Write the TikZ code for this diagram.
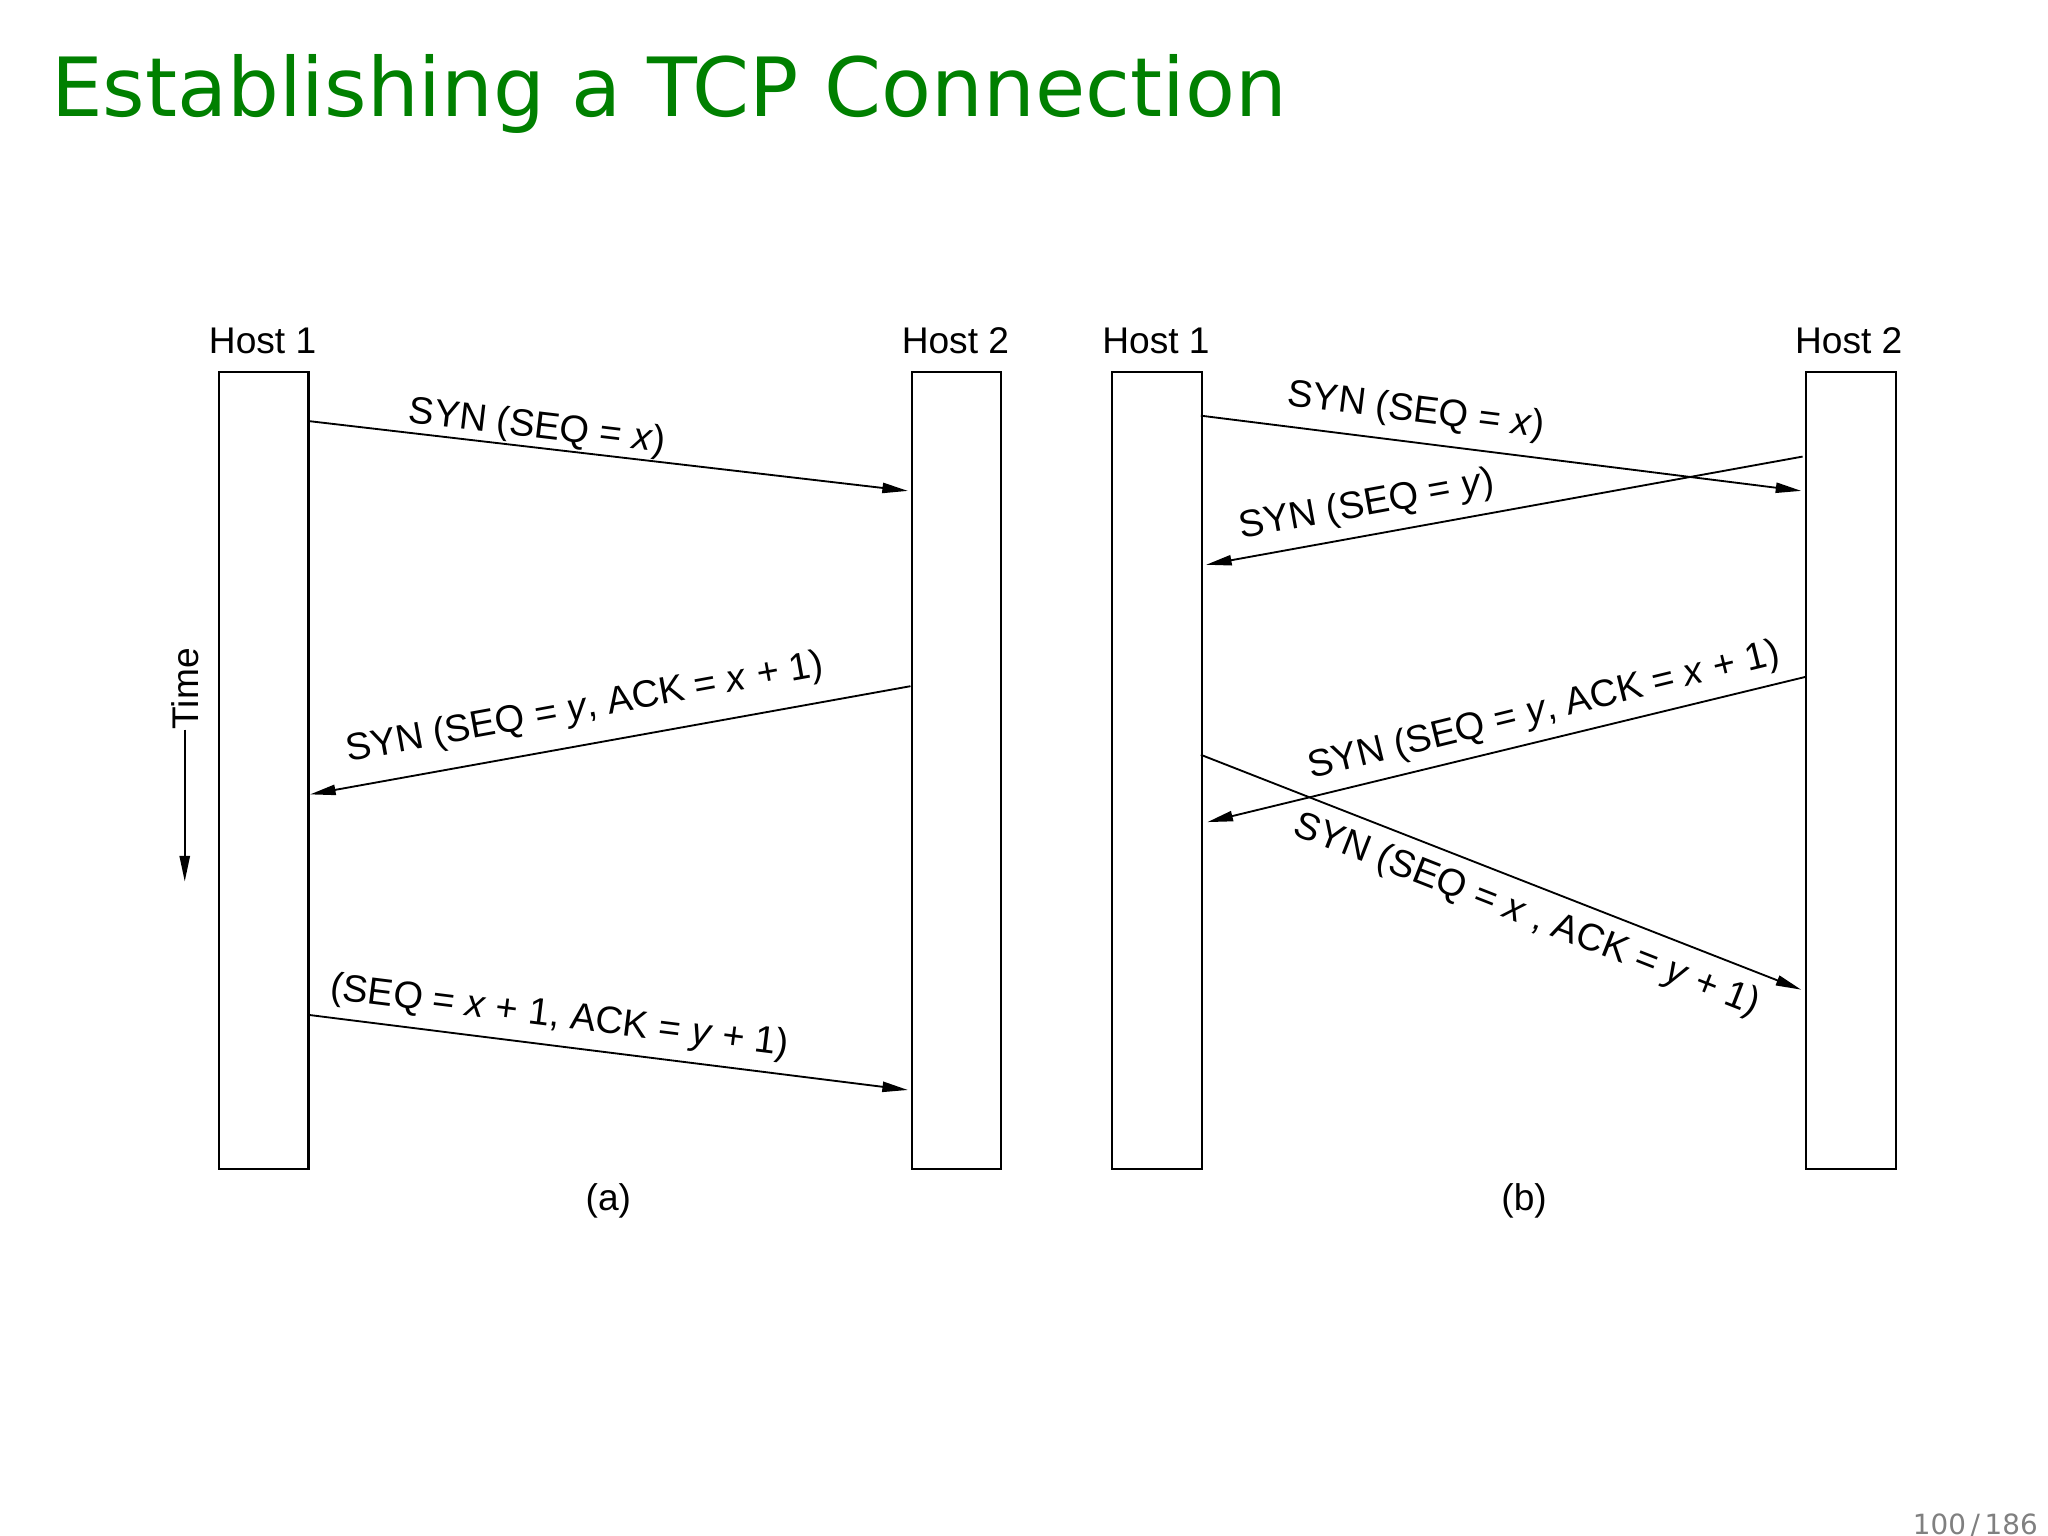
\documentclass[tikz,border=0pt]{standalone}
\usepackage{fontspec}
\setmainfont{Liberation Sans}
\newfontfamily\titlefont{DejaVu Sans}
\usetikzlibrary{arrows.meta}
\definecolor{titlegreen}{RGB}{0,128,0}
\begin{document}
\begin{tikzpicture}[x=0.01cm,y=-0.01cm,
  hostbox/.style={draw,line width=0.45pt,minimum width=68*0.01cm,minimum height=604*0.01cm,inner sep=0,anchor=north west},
  msg/.style={line width=0.4pt,-{Triangle[length=5.5pt,width=2.2pt]}},
  lbl/.style={font=\fontsize{8.2}{9}\selectfont,inner sep=0},
  hostlbl/.style={font=\fontsize{8}{9}\selectfont,inner sep=0}]
\useasboundingbox[fill=white] (0,0) rectangle (1552,1164);
\node[anchor=base west,text=titlegreen,font=\titlefont\fontsize{17.6}{19}\selectfont,inner sep=0] (title) at (38,88) {Establishing a TCP Connection};
\node[anchor=base east,text=black!50,font=\titlefont\fontsize{6}{7}\selectfont,inner sep=0] (pg) at (1545,1163) {100\,/\,186};
% (a)
\node[hostbox] (a1) at (165,281) {};
\node[hostbox] (a2) at (690,281) {};
\node[hostlbl] (a1l) at (199,258) {Host 1};
\node[hostlbl] (a2l) at (724,258) {Host 2};
\node[hostlbl] (acap) at (461,910) {(a)};
\node[hostlbl,rotate=90] (time) at (140,522) {Time};
\coordinate (ts) at (140,553);
\coordinate (te) at (140,668);
\draw[msg] (ts) -- (te);
\coordinate (p1) at (233,319); \coordinate (q1) at (688,372);
\draw[msg] (p1) -- (q1);
\node[lbl,rotate=-6.8] (l1) at (407,324) {SYN (SEQ = \textit{x})};
\coordinate (p2) at (690,520); \coordinate (q2) at (235,602);
\draw[msg] (p2) -- (q2);
\node[lbl,rotate=10.3] (l2) at (443,537) {SYN (SEQ = \textit{y}, ACK = \textit{x} + 1)};
\coordinate (p3) at (233,769); \coordinate (q3) at (688,826);
\draw[msg] (p3) -- (q3);
\node[lbl,rotate=-7.1] (l3) at (424,771) {(SEQ = \textit{x} + 1, ACK = \textit{y} + 1)};
% (b)
\node[hostbox] (b1) at (842,281) {};
\node[hostbox] (b2) at (1368,281) {};
\node[hostlbl] (b1l) at (876,258) {Host 1};
\node[hostlbl] (b2l) at (1401,258) {Host 2};
\node[hostlbl] (bcap) at (1155,910) {(b)};
\coordinate (r1) at (910,315); \coordinate (s1) at (1365,372);
\draw[msg] (r1) -- (s1);
\node[lbl,rotate=-7.1] (m1) at (1073,312) {SYN (SEQ = \textit{x})};
\coordinate (r2) at (1366,346); \coordinate (s2) at (914,428);
\draw[msg] (r2) -- (s2);
\node[lbl,rotate=10.3] (m2) at (1036,383) {SYN (SEQ = \textit{y})};
\coordinate (r3) at (1368,513); \coordinate (s3) at (915,623);
\draw[msg] (r3) -- (s3);
\node[lbl,rotate=13.7] (m3) at (1170,539) {SYN (SEQ = \textit{y}, ACK = \textit{x} + 1)};
\coordinate (r4) at (910,572); \coordinate (s4) at (1365,750);
\draw[msg] (r4) -- (s4);
\node[lbl,rotate=-21.4] (m4) at (1157,694) {SYN (SEQ = \textit{x} , ACK = \textit{y} + 1)};
\end{tikzpicture}
\end{document}
